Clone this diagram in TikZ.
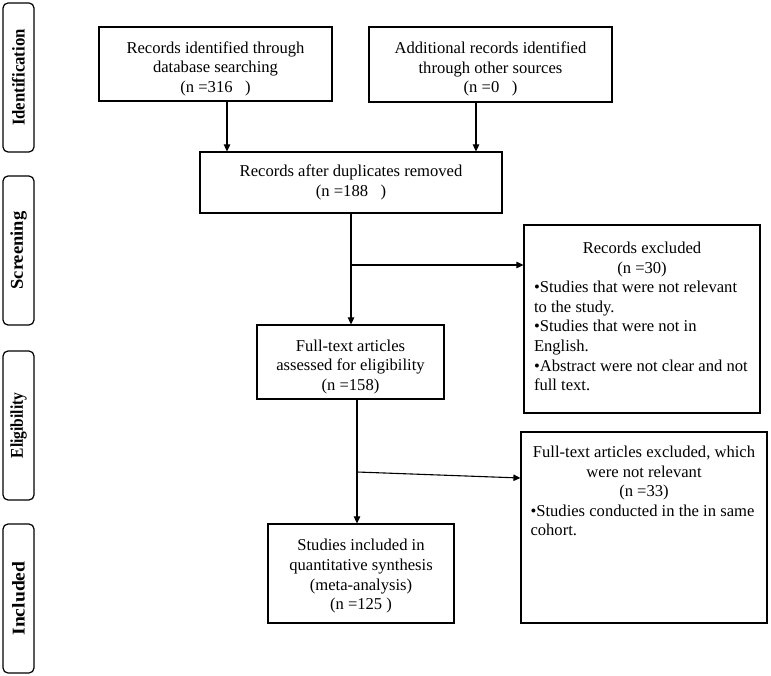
\documentclass[tikz,border=0pt]{standalone}
\usepackage{fontspec}
\setmainfont{Liberation Serif}
\usetikzlibrary{arrows.meta}
\newcommand\toppad[1]{\rule{0pt}{#1pt}}

\begin{document}
\begin{tikzpicture}[x=1pt,y=-1pt,
  box/.style={draw,line width=1.2pt,align=center,inner sep=0pt,font=\fontsize{16.6}{19.6}\selectfont},
  phase/.style={draw,line width=1.2pt,rounded corners=5pt,rotate=90,minimum width=149pt,minimum height=31pt,inner sep=0pt,font=\fontsize{18}{20}\selectfont\bfseries},
  arr/.style={line width=1.1pt,-{Triangle[length=7pt,width=6.5pt]}}]
\useasboundingbox (0,0) rectangle (771,676);

\node[phase] (pident) at (18.5,77.5) {\scalebox{0.93}[1]{Identification}};
\node[phase] (pscreen) at (18.5,250.5) {\scalebox{1.03}[1]{Screening}};
\node[phase] (pelig) at (18.5,425.5) {\scalebox{0.86}[1]{Eligibility}};
\node[phase] (pincl) at (18.5,598.5) {\scalebox{1.09}[1]{Included}};

\node[box,minimum width=233pt,minimum height=74pt] (ident) at (215.5,64) {\toppad{21}Records identified through\\database searching\\(n =316~~~)};
\node[box,minimum width=243pt,minimum height=75pt] (other) at (490.5,64.5) {\toppad{21}Additional records identified\\through other sources\\(n =0~~~)};
\node[box,minimum width=302pt,minimum height=61pt] (dupl) at (351,182.5) {Records after duplicates removed\\(n =188~~~)};
\node[box,minimum width=187pt,minimum height=74pt] (fulltext) at (350.5,362) {\toppad{21}Full-text articles\\assessed for eligibility\\(n =158)};
\node[box,minimum width=186pt,minimum height=99pt] (incl) at (361,573.5) {\toppad{17}Studies included in\\quantitative synthesis\\(meta-analysis)\\(n =125 )};

\node[box,inner xsep=10pt] (excl) at (642,319) {\begin{minipage}[t][188pt][t]{216pt}
\vspace*{17pt}{\centering Records excluded\\(n =30)\par}
\raggedright
•Studies that were not relevant\\
to the study.\\
•Studies that were not in\\
English.\\
•Abstract were not clear and not\\
full text.\par
\end{minipage}};
\node[box,inner xsep=9.5pt] (excl2) at (644,527.5) {\begin{minipage}[t][191pt][t]{227pt}
\vspace*{14pt}{\centering Full-text articles excluded, which\\were not relevant\\(n =33)\par}
\raggedright
•Studies conducted in the in same\\
cohort.\par
\end{minipage}};

\coordinate (split1) at (351,265);
\coordinate (split2) at (357,472);

\draw[arr] ([xshift=11.5pt]ident.south) -- ([xshift=11.5pt]ident.south |- dupl.north);
\draw[arr] ([xshift=-14.5pt]other.south) -- ([xshift=-14.5pt]other.south |- dupl.north);
\draw[arr] (dupl.south) -- (dupl.south |- fulltext.north);
\draw[arr] (split1) -- (split1 -| excl.west);
\draw[arr] (fulltext.south -| split2) -- (incl.north -| split2);
\draw[arr] (split2) -- ([yshift=49.5pt]excl2.west);
\end{tikzpicture}
\end{document}
